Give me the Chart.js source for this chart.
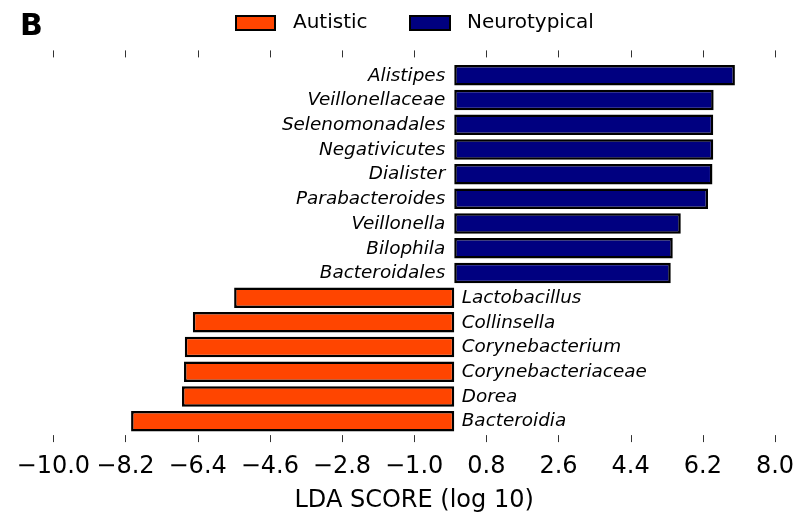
<!DOCTYPE html>
<html>
<head>
<meta charset="utf-8">
<script src="https://cdn.jsdelivr.net/npm/chart.js@4"></script>
<style>
  html, body { margin: 0; padding: 0; background: #fff; }
  #wrap { width: 800px; height: 515px; }
</style>
</head>
<body>
<div id="wrap"><canvas id="ldaChart"></canvas></div>
<script>
// ---- data ----
const taxa = [
  'Alistipes', 'Veillonellaceae', 'Selenomonadales', 'Negativicutes', 'Dialister',
  'Parabacteroides', 'Veillonella', 'Bilophila', 'Bacteroidales',
  'Lactobacillus', 'Collinsella', 'Corynebacterium', 'Corynebacteriaceae', 'Dorea', 'Bacteroidia'
];
const neurotypicalScores = [7.00, 6.47, 6.46, 6.46, 6.44, 6.33, 5.65, 5.45, 5.40,
  null, null, null, null, null, null];
const autisticScores = [null, null, null, null, null, null, null, null, null,
  -5.49, -6.52, -6.72, -6.74, -6.79, -8.06];
const xTicks = [-10.0, -8.2, -6.4, -4.6, -2.8, -1.0, 0.8, 2.6, 4.4, 6.2, 8.0];

const FONT = '"DejaVu Sans", sans-serif';

// ==========================
// extra drawing: tick marks, taxon names, legend, panel letter
// ==========================
const decorPlugin = {
  id: 'decor',
  afterDraw(chart){
    const { ctx, chartArea, scales: { x, y } } = chart;
    ctx.save();

    // inward tick marks on top and bottom edges
    ctx.strokeStyle = '#333';
    ctx.lineWidth = 1;
    const topY = chartArea.top - 12.6, botY = chartArea.bottom + 1.6;
    xTicks.forEach(v => {
      const px = Math.round(x.getPixelForValue(v)) + 0.5;
      ctx.beginPath();
      ctx.moveTo(px, topY); ctx.lineTo(px, topY + 7);
      ctx.moveTo(px, botY); ctx.lineTo(px, botY + 7);
      ctx.stroke();
    });

    // taxon names next to the zero line
    const x0 = x.getPixelForValue(0);
    ctx.font = 'italic 18.4px ' + FONT;
    ctx.fillStyle = '#000';
    ctx.textBaseline = 'middle';
    taxa.forEach((name, i) => {
      const py = y.getPixelForValue(i) + 0.5;
      if (neurotypicalScores[i] != null) {
        ctx.textAlign = 'right';
        ctx.fillText(name, x0 - 9, py);
      } else {
        ctx.textAlign = 'left';
        ctx.fillText(name, x0 + 7.5, py);
      }
    });

    // legend
    const items = [
      { ds: chart.data.datasets[0], bx: 235, bw: 41, tx: 293 },
      { ds: chart.data.datasets[1], bx: 409, bw: 42, tx: 467 }
    ];
    ctx.font = '20px ' + FONT;
    ctx.textAlign = 'left';
    items.forEach(it => {
      ctx.fillStyle = it.ds.backgroundColor;
      ctx.fillRect(it.bx, 15, it.bw, 16);
      ctx.strokeStyle = '#000';
      ctx.lineWidth = 2;
      ctx.strokeRect(it.bx + 1, 16, it.bw - 2, 14);
      ctx.fillStyle = '#000';
      ctx.fillText(it.ds.label, it.tx, 23);
    });

    // panel letter
    ctx.font = 'bold 30px ' + FONT;
    ctx.textBaseline = 'alphabetic';
    ctx.fillText('B', 20, 34.5);

    ctx.restore();
  }
};

new Chart(document.getElementById('ldaChart'), {
  type: 'bar',
  data: {
    labels: taxa,
    datasets: [
      {
        label: 'Autistic',
        data: autisticScores,
        backgroundColor: '#ff4500',
        borderColor: '#000',
        borderWidth: 2.5,
        borderSkipped: false,
        grouped: false,
        categoryPercentage: 1.0,
        barPercentage: 0.83
      },
      {
        label: 'Neurotypical',
        data: neurotypicalScores,
        backgroundColor: '#000080',
        borderColor: '#000',
        borderWidth: 2.5,
        borderSkipped: false,
        grouped: false,
        categoryPercentage: 1.0,
        barPercentage: 0.83
      }
    ]
  },
  options: {
    indexAxis: 'y',
    responsive: true,
    maintainAspectRatio: false,
    animation: false,
    devicePixelRatio: 1,
    layout: { padding: { left: 53.3, right: 25, top: 63, bottom: 0 } },
    scales: {
      x: {
        type: 'linear',
        min: -10,
        max: 8,
        afterBuildTicks: scale => { scale.ticks = xTicks.map(v => ({ value: v })); },
        afterFit: scale => {
          scale.height = 81.5;
          scale.paddingLeft = 0;
          scale.paddingRight = 0;
        },
        ticks: {
          color: '#000',
          padding: 18.6,
          maxRotation: 0,
          autoSkip: false,
          font: { family: FONT, size: 24 },
          callback: v => v.toFixed(1).replace('-', '\u2212')
        },
        grid: { display: false, drawTicks: false },
        border: { display: false },
        title: {
          display: true,
          text: 'LDA SCORE (log 10)',
          color: '#000',
          font: { family: FONT, size: 24 },
          padding: { top: 5.6, bottom: 0 }
        }
      },
      y: {
        type: 'category',
        display: false,
        offset: true
      }
    },
    plugins: {
      legend: { display: false },
      tooltip: { enabled: false }
    }
  },
  plugins: [decorPlugin]
});
</script>
</body>
</html>
